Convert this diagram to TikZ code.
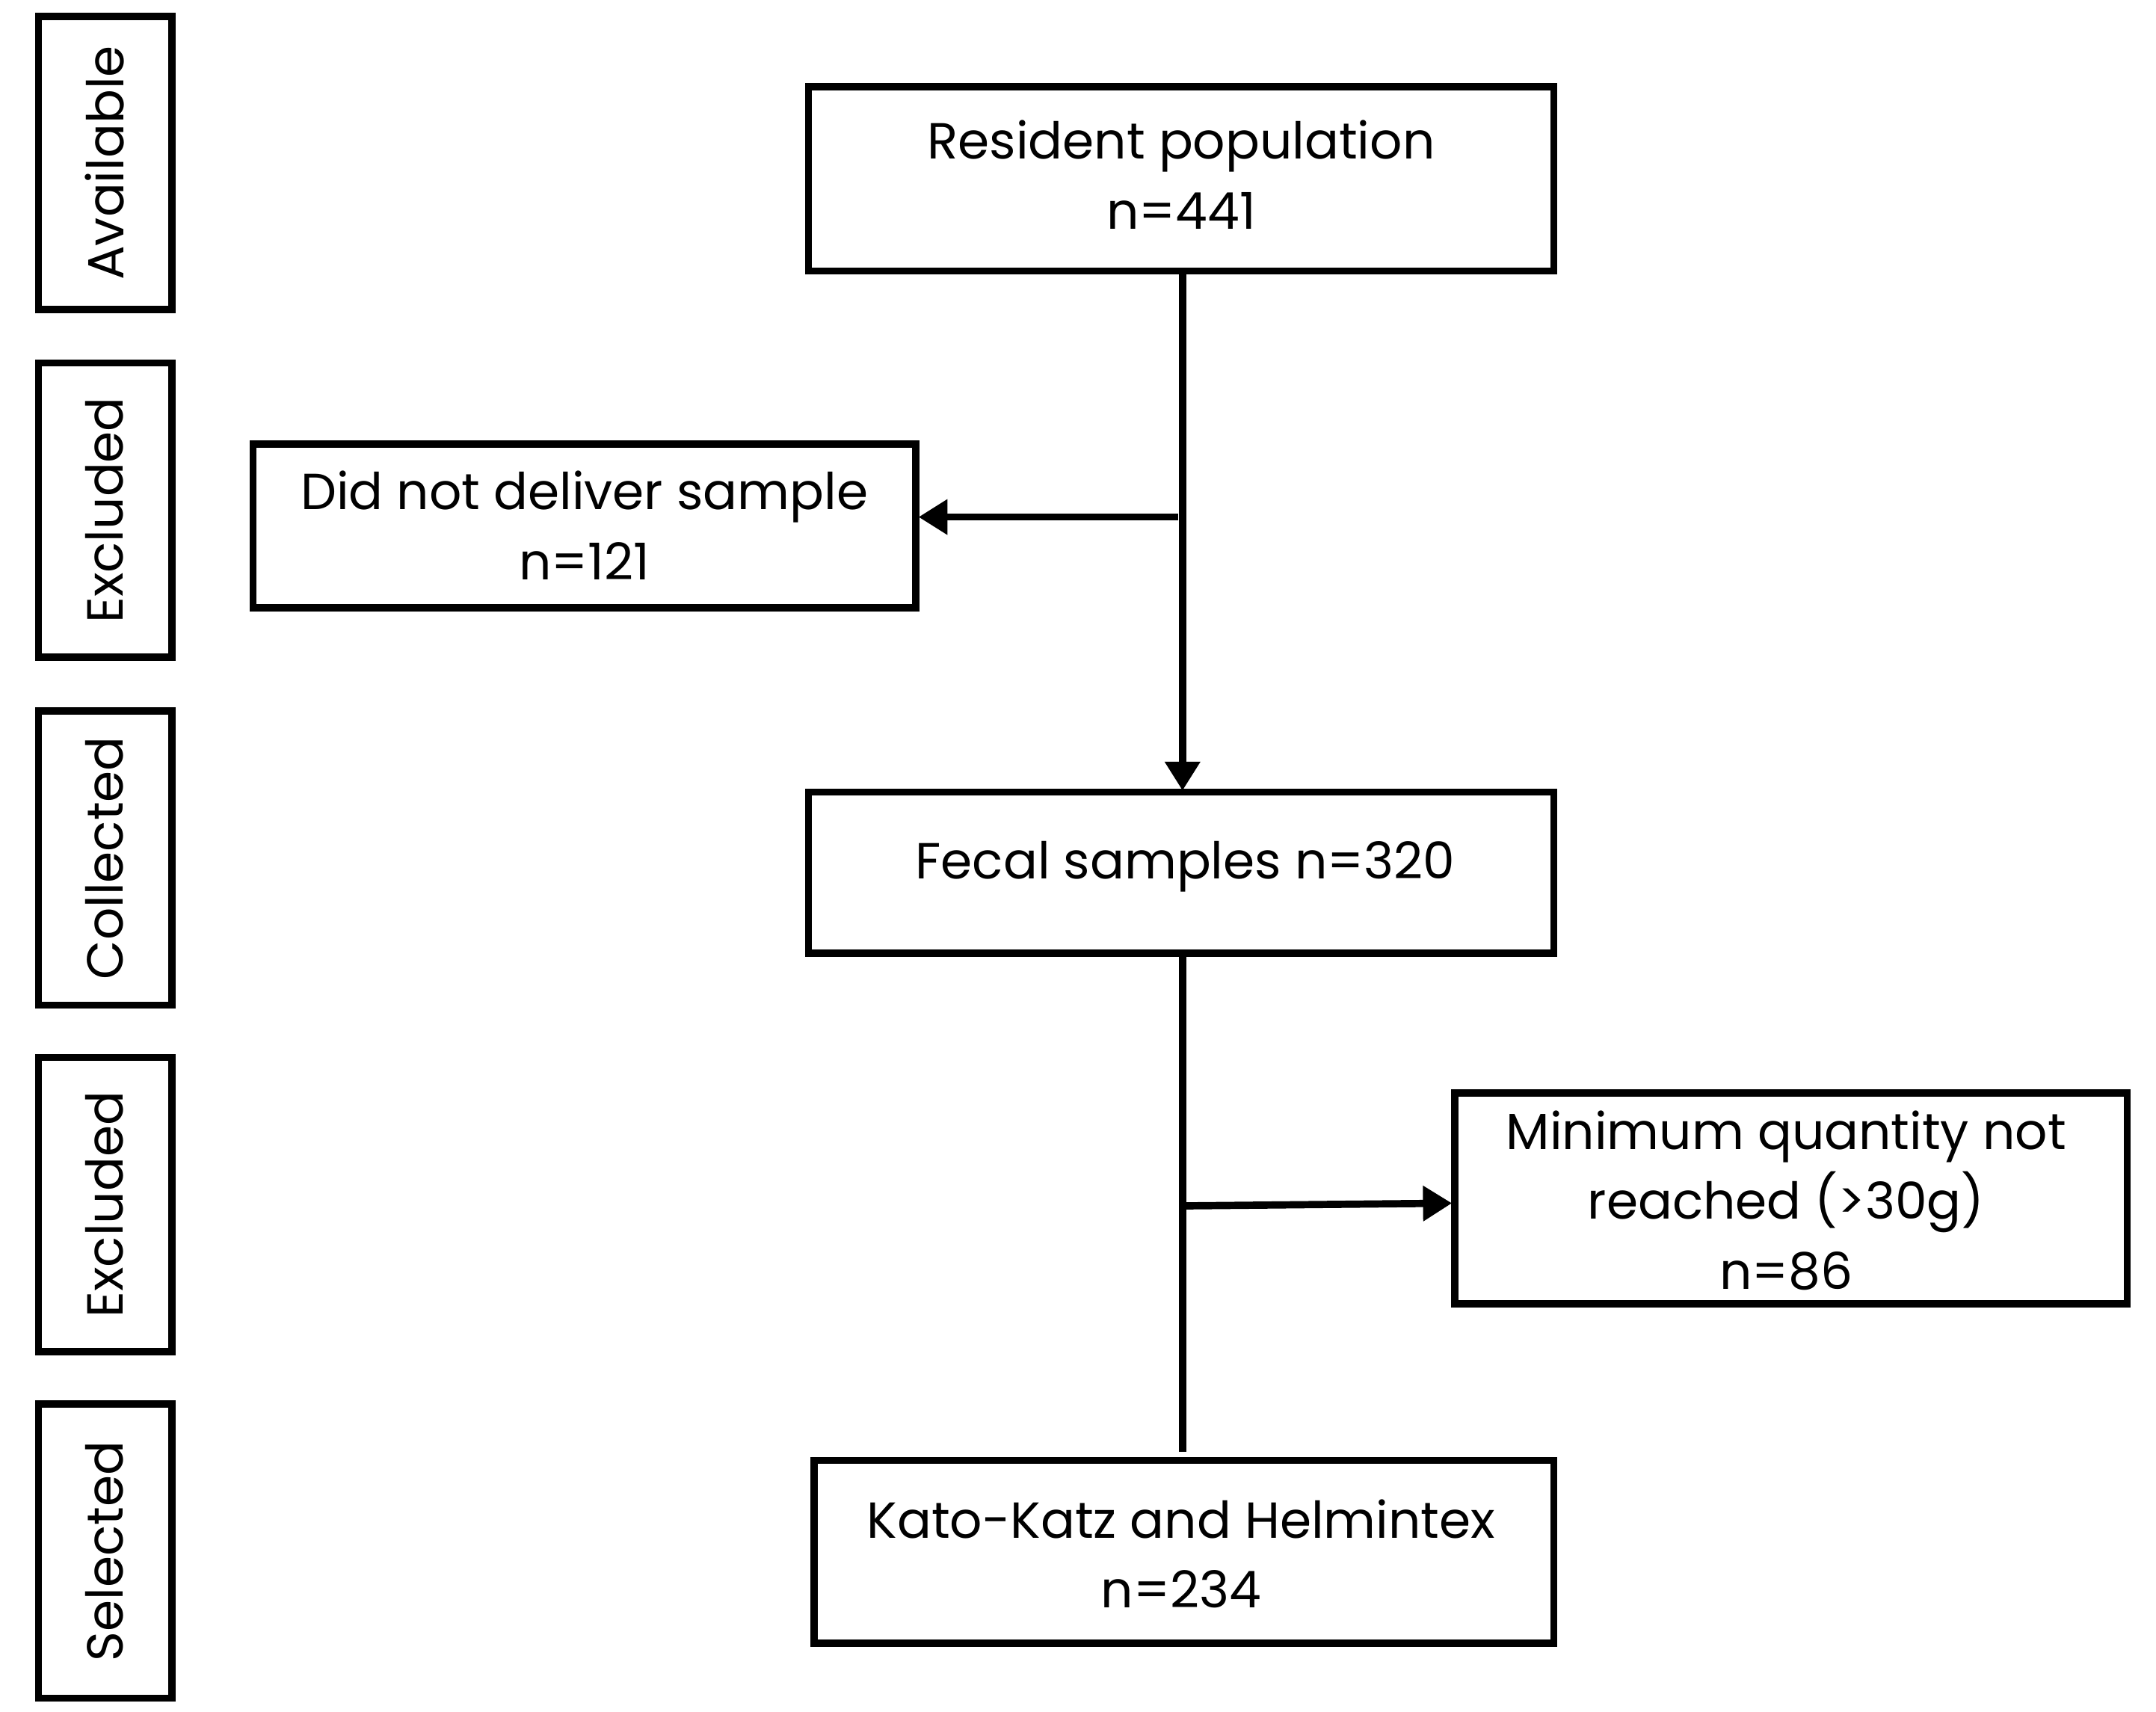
\documentclass[tikz,border=0pt]{standalone}
\usepackage{fontspec}
\setmainfont{Poppins}
\usetikzlibrary{arrows.meta}
\begin{document}
\begin{tikzpicture}[x=0.02cm,y=-0.02cm,
  box/.style={draw,line width=3pt,inner sep=0pt,align=center,font=\fontsize{21}{29}\selectfont},
  side/.style={box},
  ln/.style={line width=3pt},
  arr/.style={ln,-{Triangle[length=12pt,width=14pt]}}]
\useasboundingbox (0,0) rectangle (1568,1245);
\fill[white] (0,0) rectangle (1568,1245);
\foreach \n/\a/\b/\t in {s1/12/225/Available,s2/264/478/Excluded,s3/517/731/Collected,s4/769/983/Excluded,s5/1021/1235/Selected}{
  \draw[line width=3pt] (28,\a) rectangle (125,\b);
  \node[rotate=90,font=\fontsize{21}{29}\selectfont] (\n) at (76,{(\a+\b)/2}) {\t};
}
\draw[line width=3pt] (588,63) rectangle (1130,197);
\node[align=center,font=\fontsize{21}{29}\selectfont] (a) at (859,127) {Resident population\\n=441};
\draw[line width=3pt] (184,323) rectangle (666,442);
\node[align=center,font=\fontsize{21}{29}\selectfont] (b) at (425,382) {Did not deliver sample\\n=121};
\draw[line width=3pt] (588,576) rectangle (1130,693);
\node[align=center,font=\fontsize{21}{29}\selectfont] (c) at (862,630) {Fecal samples n=320};
\draw[line width=3pt] (1058,795) rectangle (1547,948);
\node[align=center,font=\fontsize{21}{29}\selectfont] (d) at (1299,873) {Minimum quantity not\\reached (>30g)\\n=86};
\draw[line width=3pt] (592,1062) rectangle (1130,1195);
\node[align=center,font=\fontsize{21}{29}\selectfont] (e) at (859,1130) {Kato-Katz and Helmintex\\n=234};
\coordinate (t1) at (860,197);
\coordinate (t2) at (860,575);
\coordinate (j1) at (857,376);
\coordinate (j1e) at (668,376);
\coordinate (t3) at (860,693);
\coordinate (t4) at (860,1056);
\coordinate (j2) at (858,877);
\coordinate (j2e) at (1056,875);
\draw[arr] (t1) -- (t2);
\draw[arr] (j1) -- (j1e);
\draw[ln] (t3) -- (t4);
\draw[arr] (j2) -- (j2e);
\end{tikzpicture}
\end{document}
